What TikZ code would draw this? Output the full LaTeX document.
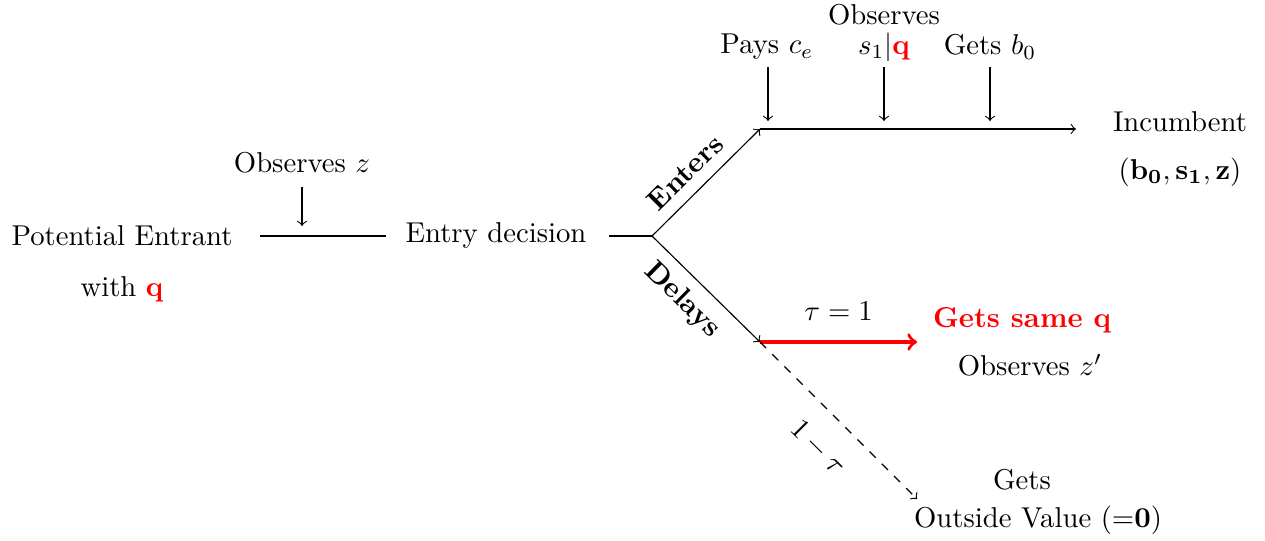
\documentclass[tikz,border=0pt]{standalone}
\usetikzlibrary{arrows}
\begin{document}
\begin{tikzpicture}[x=0.3484pt,y=-0.3484pt,
  lbl/.style={inner sep=0pt,anchor=center},
  ln/.style={draw=black,line width=0.4pt},
  arr/.style={ln,->,>=to},
  redarr/.style={draw=red,line width=1.2pt,->,>=to}]
\useasboundingbox (0,0) rectangle (1265,540);
% text nodes
\node[lbl] (pe) at (122,236) {Potential Entrant};
\node[lbl] (wq) at (122,289) {with \textcolor{red}{$\mathbf{q}$}};
\node[lbl] (oz) at (302,163) {Observes $z$};
\node[lbl] (ed) at (496,235) {Entry decision};
\node[lbl] (pc) at (767,47) {Pays $c_e$};
\node[lbl] (ob) at (884,15) {Observes};
\node[lbl] (sq) at (884,47) {$s_1|$\textcolor{red}{$\mathbf{q}$}};
\node[lbl] (gb) at (990,47) {Gets $b_0$};
\node[lbl] (inc) at (1180,122) {Incumbent};
\node[lbl] (bsz) at (1180,172) {$(\mathbf{b_0},\mathbf{s_1},\mathbf{z})$};
\node[lbl,text=red] (gsq) at (1022,320) {\textbf{Gets same q}};
\node[lbl] (oz2) at (1030,365) {Observes $z'$};
\node[lbl] (gets) at (1022,480) {Gets};
\node[lbl] (ov) at (1038,520) {Outside Value (=\textbf{0})};
% coordinates
\coordinate (a1) at (260,236);
\coordinate (a2) at (386,236);
\coordinate (z1) at (302,187);
\coordinate (z2) at (302,226);
\coordinate (b1) at (609,236);
\coordinate (br) at (652,236);
\coordinate (en) at (760,129);
\coordinate (de) at (760,342);
\coordinate (tl) at (1076,129);
\coordinate (p1) at (768,67);
\coordinate (p2) at (768,121);
\coordinate (s1) at (884,67);
\coordinate (s2) at (884,121);
\coordinate (g1) at (990,67);
\coordinate (g2) at (990,121);
\coordinate (re) at (917,342);
\coordinate (ds) at (917,499);
% connectors
\draw[ln] (a1) -- (a2);
\draw[arr] (z1) -- (z2);
\draw[ln] (b1) -- (br);
\draw[arr] (br) -- node[pos=0.45,sloped,above,font=\bfseries,inner sep=4pt] {Enters} (en);
\draw[arr] (br) -- node[pos=0.44,sloped,below,font=\bfseries,inner sep=4pt] {Delays} (de);
\draw[arr] (en) -- (tl);
\draw[arr] (p1) -- (p2);
\draw[arr] (s1) -- (s2);
\draw[arr] (g1) -- (g2);
\draw[redarr] (de) -- node[above,text=black,inner sep=7pt] {$\tau=1$} (re);
\draw[arr,dashed] (de) -- node[pos=0.52,sloped,below,inner sep=8pt] {$1-\tau$} (ds);
\end{tikzpicture}
\end{document}
